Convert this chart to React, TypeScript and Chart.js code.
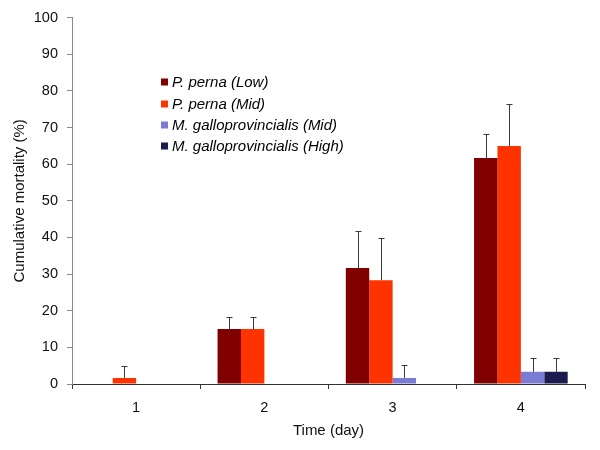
import React, { useEffect, useRef } from "react";
import { Chart, registerables } from "chart.js";

Chart.register(...registerables);

const categories = ["1", "2", "3", "4"];
const seriesNames = [
  "P. perna (Low)",
  "P. perna (Mid)",
  "M. galloprovincialis (Mid)",
  "M. galloprovincialis (High)",
];
const pernaLow = [null, 15, 31.67, 61.67];
const pernaMid = [1.67, 15, 28.33, 65];
const galloMid = [null, null, 1.67, 3.33];
const galloHigh = [null, null, null, 3.33];
const pernaLowErr = [0, 3.33, 10, 6.67];
const pernaMidErr = [3.33, 3.33, 11.5, 11.5];
const galloMidErr = [0, 0, 3.4, 3.9];
const galloHighErr = [0, 0, 0, 3.9];
const colors = ["#800000", "#FF3300", "#7B7BD3", "#1B1B50"];
const yTicks = [0, 10, 20, 30, 40, 50, 60, 70, 80, 90, 100];

const FONT = "'Liberation Sans', Arial, sans-serif";

export default function App() {
  const ref = useRef<HTMLCanvasElement | null>(null);

  useEffect(() => {
    if (!ref.current) return;
    const values = [pernaLow, pernaMid, galloMid, galloHigh];
    const errors = [pernaLowErr, pernaMidErr, galloMidErr, galloHighErr];

    const errorBars = {
      id: "errorBars",
      afterDatasetsDraw(chart: any) {
        const ctx = chart.ctx;
        const yScale = chart.scales.y;
        ctx.save();
        ctx.strokeStyle = "#3a3a3a";
        ctx.lineWidth = 1;
        values.forEach((vals, i) => {
          const meta = chart.getDatasetMeta(i);
          meta.data.forEach((el: any, j: number) => {
            const v = vals[j];
            const e = errors[i][j];
            if (v == null || !e) return;
            const x = Math.round(el.x) + 0.5;
            const yTop = Math.round(yScale.getPixelForValue(v + e)) + 0.5;
            const yBase = el.y;
            ctx.beginPath();
            ctx.moveTo(x, yBase);
            ctx.lineTo(x, yTop);
            ctx.moveTo(x - 3, yTop);
            ctx.lineTo(x + 3, yTop);
            ctx.stroke();
          });
        });
        ctx.restore();
      },
    };

    const legendPlugin = {
      id: "insideLegend",
      afterDraw(chart: any) {
        const ctx = chart.ctx;
        ctx.save();
        ctx.font = `italic 15px ${FONT}`;
        ctx.textBaseline = "middle";
        ctx.textAlign = "left";
        const yStarts = [82, 104, 125, 146];
        seriesNames.forEach((name, i) => {
          const y = yStarts[i];
          ctx.fillStyle = colors[i];
          ctx.fillRect(161, y - 3.5, 7, 7);
          ctx.fillStyle = "#000";
          ctx.fillText(name, 172, y + 1);
        });
        ctx.restore();
      },
    };

    const chart = new Chart(ref.current, {
      type: "bar",
      data: {
        labels: categories,
        datasets: values.map((vals, i) => ({
          label: seriesNames[i],
          data: vals as any,
          backgroundColor: colors[i],
          borderWidth: 0,
          categoryPercentage: 0.73,
          barPercentage: 1,
        })),
      },
      options: {
        animation: false,
        responsive: true,
        maintainAspectRatio: false,
        layout: { padding: { top: 13, right: 15, left: 0, bottom: 0 } },
        plugins: {
          legend: { display: false },
          tooltip: { enabled: false },
        },
        scales: {
          x: {
            afterFit(scale: any) {
              scale.height = 66;
            },
            border: { display: true, color: "#333", width: 1 },
            grid: {
              display: true,
              drawOnChartArea: false,
              drawTicks: true,
              tickLength: 5,
              color: "#333",
              offset: true,
            },
            ticks: {
              color: "#111",
              font: { family: FONT, size: 14.5 },
              padding: 10,
            },
            title: {
              display: true,
              text: "Time (day)",
              color: "#111",
              font: { family: FONT, size: 15 },
              padding: { top: 0, bottom: 10 },
            },
          },
          y: {
            min: 0,
            max: 100,
            afterFit(scale: any) {
              scale.width = 72;
            },
            afterBuildTicks(scale: any) {
              scale.ticks = yTicks.map((v) => ({ value: v }));
            },
            border: { display: true, color: "#8a8a8a", width: 1 },
            grid: {
              display: true,
              drawOnChartArea: false,
              drawTicks: true,
              tickLength: 5,
              color: "#8a8a8a",
            },
            ticks: {
              color: "#111",
              font: { family: FONT, size: 14.5 },
              padding: 9,
            },
            title: {
              display: true,
              text: "Cumulative mortality (%)",
              color: "#111",
              font: { family: FONT, size: 15 },
              padding: { top: 11, bottom: 0 },
            },
          },
        },
      },
      plugins: [errorBars, legendPlugin],
    });
    return () => chart.destroy();
  }, []);

  return (
    <div
      style={{
        position: "fixed",
        left: 0,
        top: 0,
        width: 600,
        height: 450,
        background: "#fff",
      }}
    >
      <canvas ref={ref} />
    </div>
  );
}
